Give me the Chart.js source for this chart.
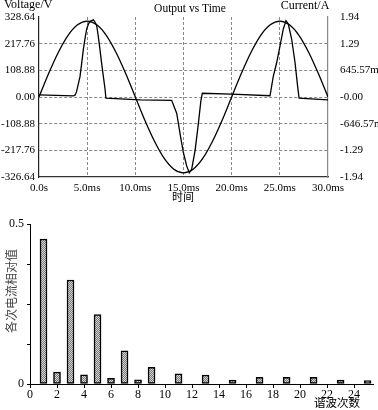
<!DOCTYPE html>
<html><head><meta charset="utf-8">
<script src="https://cdn.jsdelivr.net/npm/chart.js@4"></script>
<style>
html,body{margin:0;padding:0;background:#fff;}
canvas{position:absolute;left:0;display:block;}
#c1{top:0}#c2{top:205px}
</style></head><body>
<canvas id="c1" width="378" height="205"></canvas>
<canvas id="c2" width="378" height="205"></canvas>
<script>
// ---- top chart data ----
const timeTickValues = [0,5,10,15,20,25,30];
const timeTickLabels = ['0.0s','5.0ms','10.0ms','15.0ms','20.0ms','25.0ms','30.0ms'];
const voltTickValues = [-326.64,-217.76,-108.88,0,108.88,217.76,326.64];
const voltTickLabels = ['-326.64','-217.76','-108.88','0.00','108.88','217.76','328.64'];
const currTickValues = [-1.94,-1.2933,-0.6467,0,0.6467,1.2933,1.94];
const currTickLabels = ['-1.94','-1.29','-646.57m','-0.00','645.57m','1.29','1.94'];

const voltTime = [0,1,2,3,4,5,6,7,8,9,10,11,12,13,14,15,16,17,18,19,20,21,22,23,24,25,26,27,28,29,30];
const voltValues = [0,96,182,251,295,310,295,251,182,96,0,-96,-182,-251,-295,-310,-295,-251,-182,-96,0,96,182,251,295,310,295,251,182,96,0];

const currTime = [0,3.56,3.75,3.9,4.05,4.26,4.45,4.6,4.8,4.95,5.15,5.35,5.64,5.8,5.99,6.15,6.33,6.5,6.68,6.85,6.95,10.5,13.77,
  14.3,14.64,14.98,15.33,15.6,15.85,16.2,16.54,16.8,16.95,20.0,23.98,
  24.32,24.67,25.02,25.36,25.64,25.88,26.23,26.58,26.85,27.0,30.0];
const currValues = [0.05,0.025,0.05,0.13,0.28,0.5,0.85,1.15,1.45,1.65,1.78,1.84,1.87,1.82,1.73,1.48,1.15,0.82,0.5,0.2,-0.03,-0.07,-0.08,
  -0.4,-0.89,-1.34,-1.67,-1.84,-1.75,-1.3,-0.65,-0.1,0.09,0.07,0.03,
  0.5,0.83,1.24,1.65,1.85,1.77,1.4,0.83,0.25,-0.03,-0.07];

// ---- bottom chart data ----
const harmonicOrder = [1,2,3,4,5,6,7,8,9,11,13,15,17,19,21,23,25];
const harmonicValues = [0.453,0.0375,0.325,0.029,0.217,0.018,0.104,0.013,0.052,0.032,0.028,0.0125,0.021,0.021,0.021,0.0125,0.011];
const harmonicTickValues = [0,2,4,6,8,10,12,14,16,18,20,22,24];
const relTickValues = [0,0.125,0.25,0.375,0.5];
const relTickLabels = ['0','','','','0.5'];

const SERIF = '"Liberation Serif", "Times New Roman", serif';
const CJK = '"Liberation Serif", "Noto Sans CJK SC", serif';
Chart.defaults.font.family = SERIF;
Chart.defaults.font.size = 11;
Chart.defaults.color = '#000';

const textPlugin1 = {
  id: 'txt1',
  afterDraw(chart) {
    const c = chart.ctx;
    c.save();
    c.fillStyle = '#000';
    c.font = '12px ' + SERIF;
    c.textBaseline = 'middle';
    c.textAlign = 'left';
    c.fillText('Voltage/V', 4, 5);
    c.textAlign = 'center';
    c.font = '11.5px ' + SERIF;
    c.fillText('Output vs Time', 190, 9);
    c.font = '12px ' + SERIF;
    c.fillText('Current/A', 305, 6);
    c.font = '11px ' + CJK;
    c.fillText('时间', 183, 198);
    c.restore();
  }
};

const gridDashColor = '#8a8a8a';

new Chart(document.getElementById('c1'), {
  type: 'line',
  data: {
    datasets: [
      { data: voltTime.map((t,i)=>({x:t,y:voltValues[i]})), yAxisID:'y', borderColor:'#000', borderWidth:1.3,
        pointRadius:0, tension:0.4, cubicInterpolationMode:'monotone', fill:false },
      { data: currTime.map((t,i)=>({x:t,y:currValues[i]})), yAxisID:'y1', borderColor:'#000', borderWidth:1.3,
        pointRadius:0, tension:0, fill:false }
    ]
  },
  options: {
    responsive:false, animation:false, devicePixelRatio:1,
    layout:{ padding:{ top:17, left:0, right:0, bottom:0 } },
    plugins:{ legend:{display:false}, tooltip:{enabled:false} },
    scales:{
      x:{ type:'linear', min:0, max:30,
        afterBuildTicks: s => { s.ticks = timeTickValues.map(v=>({value:v})); },
        afterFit: s => { s.height = 28; },
        ticks:{ padding:5, maxRotation:0, autoSkip:false,
          callback:(v)=> timeTickLabels[timeTickValues.indexOf(v)] },
        grid:{ drawTicks:false, lineWidth:1,
          color: c => (c.tick && (c.tick.value===0 || c.tick.value===30)) ? 'rgba(0,0,0,0)' : gridDashColor },
        border:{ display:true, color:'#333', width:1.2, dash:[3,2] }
      },
      y:{ type:'linear', position:'left', min:-326.64, max:326.64,
        afterBuildTicks: s => { s.ticks = voltTickValues.map(v=>({value:v})); },
        afterFit: s => { s.width = 39; },
        ticks:{ padding:4, autoSkip:false,
          callback:(v)=> voltTickLabels[voltTickValues.indexOf(v)] },
        grid:{ drawTicks:false, lineWidth:1,
          color: c => (c.tick && Math.abs(c.tick.value)>300) ? 'rgba(0,0,0,0)' : gridDashColor },
        border:{ display:true, color:'#222', width:1.2, dash:[3,2] }
      },
      y1:{ type:'linear', position:'right', min:-1.94, max:1.94,
        afterBuildTicks: s => { s.ticks = currTickValues.map(v=>({value:v})); },
        afterFit: s => { s.width = 50; },
        ticks:{ padding:4, autoSkip:false,
          callback:(v)=> currTickLabels[currTickValues.indexOf(v)] },
        grid:{ display:false },
        border:{ display:true, color:'#888', width:1.2 }
      }
    }
  },
  plugins:[textPlugin1]
});

// hatch-like pattern for bars
const pc = document.createElement('canvas');
pc.width = 2; pc.height = 2;
const pctx = pc.getContext('2d');
pctx.fillStyle = '#d8d8d8'; pctx.fillRect(0,0,2,2);
pctx.fillStyle = '#777777'; pctx.fillRect(0,0,1,1); pctx.fillRect(1,1,1,1);
const barPattern = pctx.createPattern(pc, 'repeat');

const textPlugin2 = {
  id: 'txt2',
  afterDraw(chart) {
    const c = chart.ctx;
    c.save();
    c.fillStyle = '#444';
    c.font = '12px ' + CJK;
    c.textBaseline = 'middle';
    c.textAlign = 'center';
    c.translate(13, 86);
    c.rotate(-Math.PI/2);
    c.fillText('各次电流相对值', 0, 0);
    c.restore();
    c.save();
    c.fillStyle = '#000';
    c.font = '11.5px ' + CJK;
    c.textBaseline = 'middle';
    c.textAlign = 'center';
    c.fillText('谐波次数', 337, 199);
    c.restore();
  }
};

new Chart(document.getElementById('c2'), {
  type: 'bar',
  data: {
    datasets: [{
      data: harmonicOrder.map((h,i)=>({x:h,y:harmonicValues[i]})),
      backgroundColor: barPattern, borderColor:'#000', borderWidth:1.5, borderSkipped:false,
      barThickness:7
    }]
  },
  options: {
    responsive:false, animation:false, devicePixelRatio:1,
    layout:{ padding:{ top:19, left:0, right:5, bottom:0 } },
    plugins:{ legend:{display:false}, tooltip:{enabled:false} },
    scales:{
      x:{ type:'linear', min:0, max:25.4, offset:false,
        afterBuildTicks: s => { s.ticks = harmonicTickValues.map(v=>({value:v})); },
        afterFit: s => { s.height = 26; },
        ticks:{ padding:0, maxRotation:0, autoSkip:false, font:{size:12}, callback:(v)=> String(v) },
        grid:{ offset:false, drawOnChartArea:false, drawTicks:true, tickLength:4, tickColor:'#000', color:'#000' },
        border:{ display:true, color:'#000', width:1 }
      },
      y:{ type:'linear', min:0, max:0.5,
        afterBuildTicks: s => { s.ticks = relTickValues.map(v=>({value:v})); },
        afterFit: s => { s.width = 30; },
        ticks:{ padding:3, autoSkip:false, font:{size:12},
          callback:(v)=> relTickLabels[relTickValues.indexOf(v)] },
        grid:{ drawOnChartArea:false, drawTicks:true, tickLength:3, tickColor:'#000', color:'#000' },
        border:{ display:true, color:'#000', width:1 }
      }
    }
  },
  plugins:[textPlugin2]
});
</script>
</body></html>
